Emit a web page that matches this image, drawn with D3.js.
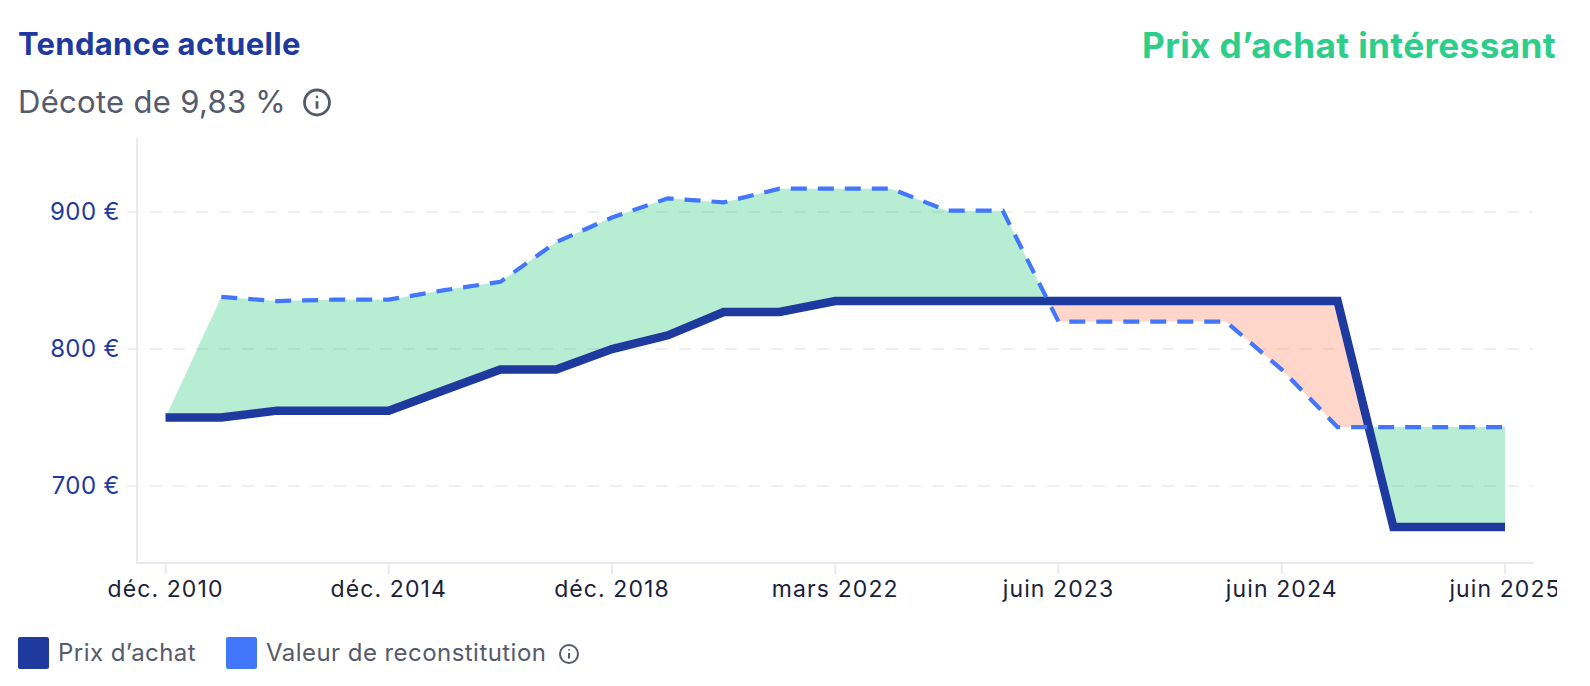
<!DOCTYPE html>
<html lang="fr">
<head>
  <meta charset="UTF-8" />
  <title>Tendance actuelle</title>
  <script src="https://d3js.org/d3.v7.min.js"></script>
  <style>
    html, body { margin: 0; padding: 0; background: #fff; overflow: hidden; }
    svg { display: block; font-family: Inter, "Noto Sans", sans-serif; }
  </style>
</head>
<body>
  <svg width="1590" height="686"></svg>
  <script>
    // ---- data ----
    const dates = [
      "déc. 2010", "", "", "", "déc. 2014", "", "", "", "déc. 2018", "", "", "", "mars 2022",
      "", "", "", "juin 2023", "", "", "", "juin 2024", "", "", "", "juin 2025"
    ];
    const prixAchat = [750, 750, 755, 755, 755, 770, 785, 785, 800, 810, 827, 827, 835,
      835, 835, 835, 835, 835, 835, 835, 835, 835, 670, 670, 670];
    const reconstitution = [750, 838, 835, 836, 836, 843, 849, 878, 896, 910, 907, 917, 917,
      917, 901, 901, 820, 820, 820, 820, 785, 743, 743, 743, 743];
    const yTicks = [700, 800, 900];
    const legendItems = ["Prix d’achat", "Valeur de reconstitution"];

    const svg = d3.select("svg");

    const x = d3.scaleLinear().domain([0, dates.length - 1]).range([165.5, 1505]);
    const y = d3.scaleLinear().domain([700, 900]).range([486, 212]);
    const plotTop = 138, plotBottom = 563, axisX = 137, plotRight = 1533;

    // gridlines
    svg.append("g").selectAll("line").data(yTicks).join("line")
      .attr("x1", axisX - 10).attr("x2", plotRight)
      .attr("y1", d => y(d)).attr("y2", d => y(d))
      .attr("stroke", "#eeeff2").attr("stroke-width", 2).attr("stroke-dasharray", "12 11");

    // axes
    svg.append("line").attr("x1", axisX).attr("x2", axisX).attr("y1", plotTop).attr("y2", plotBottom)
      .attr("stroke", "#e9eaf0").attr("stroke-width", 2);
    svg.append("line").attr("x1", axisX - 1).attr("x2", plotRight).attr("y1", plotBottom).attr("y2", plotBottom)
      .attr("stroke", "#e9eaf0").attr("stroke-width", 2);

    const xLabels = dates.map((d, i) => ({ d, i })).filter(t => t.d);
    svg.append("g").selectAll("line").data(xLabels).join("line")
      .attr("x1", t => x(t.i)).attr("x2", t => x(t.i))
      .attr("y1", plotBottom).attr("y2", plotBottom + 11)
      .attr("stroke", "#e9eaf0").attr("stroke-width", 2);

    // the last label is cut off at the right edge of the widget
    svg.append("clipPath").attr("id", "widget").append("rect")
      .attr("x", 0).attr("y", 0).attr("width", 1557).attr("height", 686);
    svg.append("g").attr("clip-path", "url(#widget)").selectAll("text").data(xLabels).join("text")
      .attr("x", t => x(t.i)).attr("y", 597)
      .attr("text-anchor", "middle").attr("font-size", 23).attr("letter-spacing", 1.1)
      .attr("fill", "#1a2238")
      .text(t => t.d);

    svg.append("g").selectAll("text").data(yTicks).join("text")
      .attr("x", 120).attr("y", d => y(d) + 8)
      .attr("text-anchor", "end").attr("font-size", 24).attr("letter-spacing", 0.4)
      .attr("fill", "#1e3a9f")
      .text(d => d + " €");

    // difference areas: clip on the purchase price line
    const idx = dates.map((_, i) => i);
    svg.append("clipPath").attr("id", "above").append("path")
      .attr("d", d3.area().x(i => x(i)).y0(0).y1(i => y(prixAchat[i]))(idx));
    svg.append("clipPath").attr("id", "below").append("path")
      .attr("d", d3.area().x(i => x(i)).y0(686).y1(i => y(prixAchat[i]))(idx));

    const gap = d3.area().x(i => x(i)).y0(i => y(prixAchat[i])).y1(i => y(reconstitution[i]));
    svg.append("path").attr("d", gap(idx)).attr("fill", "#2ecc80").attr("fill-opacity", 0.35)
      .attr("clip-path", "url(#above)");
    svg.append("path").attr("d", gap(idx)).attr("fill", "#fe8d68").attr("fill-opacity", 0.35)
      .attr("clip-path", "url(#below)");

    // lines (dashed one is drawn from the second point on, like the source)
    const line = s => d3.line().x(i => x(i)).y(i => y(s[i]));
    svg.append("path").attr("d", line(prixAchat)(idx))
      .attr("fill", "none").attr("stroke", "#1e3a9f").attr("stroke-width", 8.5);
    svg.append("path").attr("d", line(reconstitution)(idx.slice(1)))
      .attr("fill", "none").attr("stroke", "#4377fb").attr("stroke-width", 4.2)
      .attr("stroke-dasharray", "16 11");

    // header
    svg.append("text").attr("x", 18).attr("y", 55).attr("font-size", 31).attr("font-weight", 700)
      .attr("letter-spacing", 0.3).attr("fill", "#1e3a9f").text("Tendance actuelle");
    svg.append("text").attr("x", 1556).attr("y", 58).attr("text-anchor", "end")
      .attr("font-size", 35.2).attr("font-weight", 700).attr("letter-spacing", 0.35)
      .attr("fill", "#2dce89").text("Prix d’achat intéressant");
    svg.append("text").attr("x", 18).attr("y", 113).attr("font-size", 31).attr("letter-spacing", 0.3)
      .attr("fill", "#565a6b").text("Décote de 9,83 %");

    function infoIcon(cx, cy, r, sw) {
      const g = svg.append("g").attr("stroke", "#565a6b").attr("fill", "none");
      g.append("circle").attr("cx", cx).attr("cy", cy).attr("r", r).attr("stroke-width", sw);
      g.append("line").attr("x1", cx).attr("x2", cx).attr("y1", cy - r * 0.1).attr("y2", cy + r * 0.5)
        .attr("stroke-width", sw);
      g.append("circle").attr("cx", cx).attr("cy", cy - r * 0.45).attr("r", sw * 0.45)
        .attr("fill", "#565a6b").attr("stroke", "none");
    }
    infoIcon(317, 102.5, 12.5, 2.8);

    // legend
    const legendX = [18, 226], legendColors = ["#1e3a9f", "#4377fb"];
    legendItems.forEach((label, i) => {
      svg.append("rect").attr("x", legendX[i]).attr("y", 637).attr("width", 31).attr("height", 32)
        .attr("rx", 2).attr("fill", legendColors[i]);
      svg.append("text").attr("x", legendX[i] + 40).attr("y", 661).attr("font-size", 24)
        .attr("letter-spacing", 0.45).attr("fill", "#565a6b").text(label);
    });
    infoIcon(569, 654, 9, 2);
  </script>
</body>
</html>
